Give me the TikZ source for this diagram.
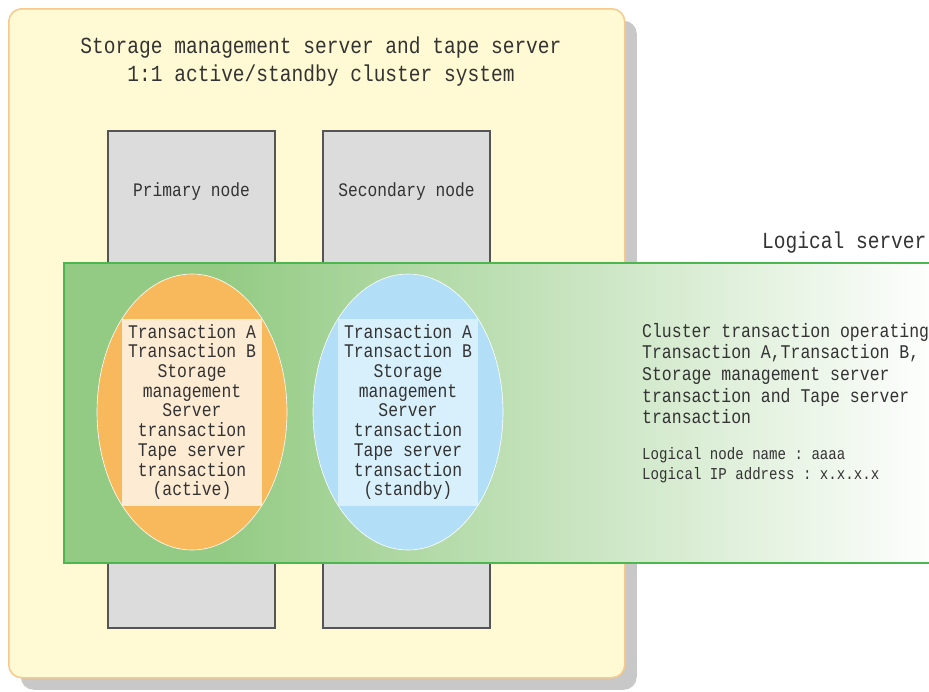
\documentclass[tikz,border=0pt]{standalone}
\usepackage{fontspec}
\setmonofont[FakeStretch=0.85]{Liberation Mono}
\usetikzlibrary{positioning,calc}
\usetikzlibrary{shapes,shadows}

\definecolor{framefill}{HTML}{FFFAD3}
\definecolor{frameline}{HTML}{F7C98B}
\definecolor{shadowgray}{HTML}{C8C8C8}
\definecolor{hostgray}{HTML}{DCDCDC}
\definecolor{hostline}{HTML}{555555}
\definecolor{bandgreen}{HTML}{94CB84}
\definecolor{bandline}{HTML}{4DB74F}
\definecolor{activefill}{HTML}{F7B95C}
\definecolor{activetext}{HTML}{FDEBD4}
\definecolor{standbyfill}{HTML}{B2DFF7}
\definecolor{standbytext}{HTML}{D8F0FC}
\definecolor{inkgray}{HTML}{333333}

\pgfdeclarehorizontalshading{bandshade}{100bp}{color(0bp)=(bandgreen); color(34bp)=(bandgreen); color(75bp)=(white); color(100bp)=(white)}

\tikzset{
  hostbox/.style={draw=hostline,fill=hostgray,line width=2pt,rectangle,minimum height = 497pt, minimum width = 167pt,anchor = north west,inner sep=0pt},
  txnarea/.style={ellipse,draw=white,line width=0.6pt,minimum width = 190pt, minimum height = 276pt,anchor = center,inner sep=0pt},
  txntext/.style={rectangle,inner sep=0pt,minimum width = 140pt, minimum height = 187pt,align=center,text=inkgray,font=\ttfamily\fontsize{19.3}{19.7}\selectfont},
  titletext/.style={inner sep=0pt,align=center,text=inkgray,font=\ttfamily\fontsize{23}{28}\selectfont},
  labeltext/.style={inner sep=0pt,text=inkgray,font=\ttfamily\fontsize{19.1}{22}\selectfont},
  infotext/.style={inner sep=0pt,align=left,anchor=west,text=inkgray,font=\ttfamily\fontsize{19.4}{21.7}\selectfont},
  smalltext/.style={inner sep=0pt,align=left,anchor=west,text=inkgray,font=\ttfamily\fontsize{16.6}{20}\selectfont}
}

\begin{document}
\begin{tikzpicture}[x=1pt,y=-1pt]

      \useasboundingbox (0,0) rectangle (929,691);

      % cluster system frame
      \node[draw=frameline,fill=framefill,line width=1.5pt,rounded corners=13pt,rectangle,minimum width = 616pt, minimum height = 669pt,anchor = north west,inner sep=0pt,
            drop shadow={shadow xshift=12pt,shadow yshift=-12pt,fill=shadowgray,opacity=1}] at (8,8) (cs) {};
      \node[titletext] at (321,62) (cstitle) {Storage management server and tape server\\1:1 active/standby cluster system};

      % physical nodes
      \node[hostbox] at (107,130) (p1) {};
      \node[hostbox,right = 46pt of p1.north east,anchor = north west] (p2) {};
      \node[labeltext] at ($(p1.north)+(0,62)$) (p1l) {Primary node};
      \node[labeltext] at ($(p2.north)+(0,62)$) (p2l) {Secondary node};

      % logical server band
      \node[rectangle,shade,shading=bandshade,draw=bandline,line width=2pt,minimum width = 877pt, minimum height = 300pt,anchor = north west,inner sep=0pt] at (63,262) (ls) {};
      \node[titletext,anchor = west] at (762,243) (lsl) {Logical server};

      % transactions
      \node[txnarea,fill=activefill] at (192,412) (ea) {};
      \node[txnarea,fill=standbyfill] at (408,412) (es) {};
      \node[txntext,fill=activetext] at (ea.center) (ta) {Transaction A\\Transaction B\\Storage\\management\\Server\\transaction\\Tape server\\transaction\\(active)};
      \node[txntext,fill=standbytext] at (es.center) (ts) {Transaction A\\Transaction B\\Storage\\management\\Server\\transaction\\Tape server\\transaction\\(standby)};

      \node[infotext] at (642,373.5) (info) {Cluster transaction operating\\Transaction A,Transaction B,\\Storage management server\\transaction and Tape server\\transaction};
      \node[smalltext] at (642,465) (addr) {Logical node name : aaaa\\Logical IP address : x.x.x.x};

    \end{tikzpicture}
\end{document}
